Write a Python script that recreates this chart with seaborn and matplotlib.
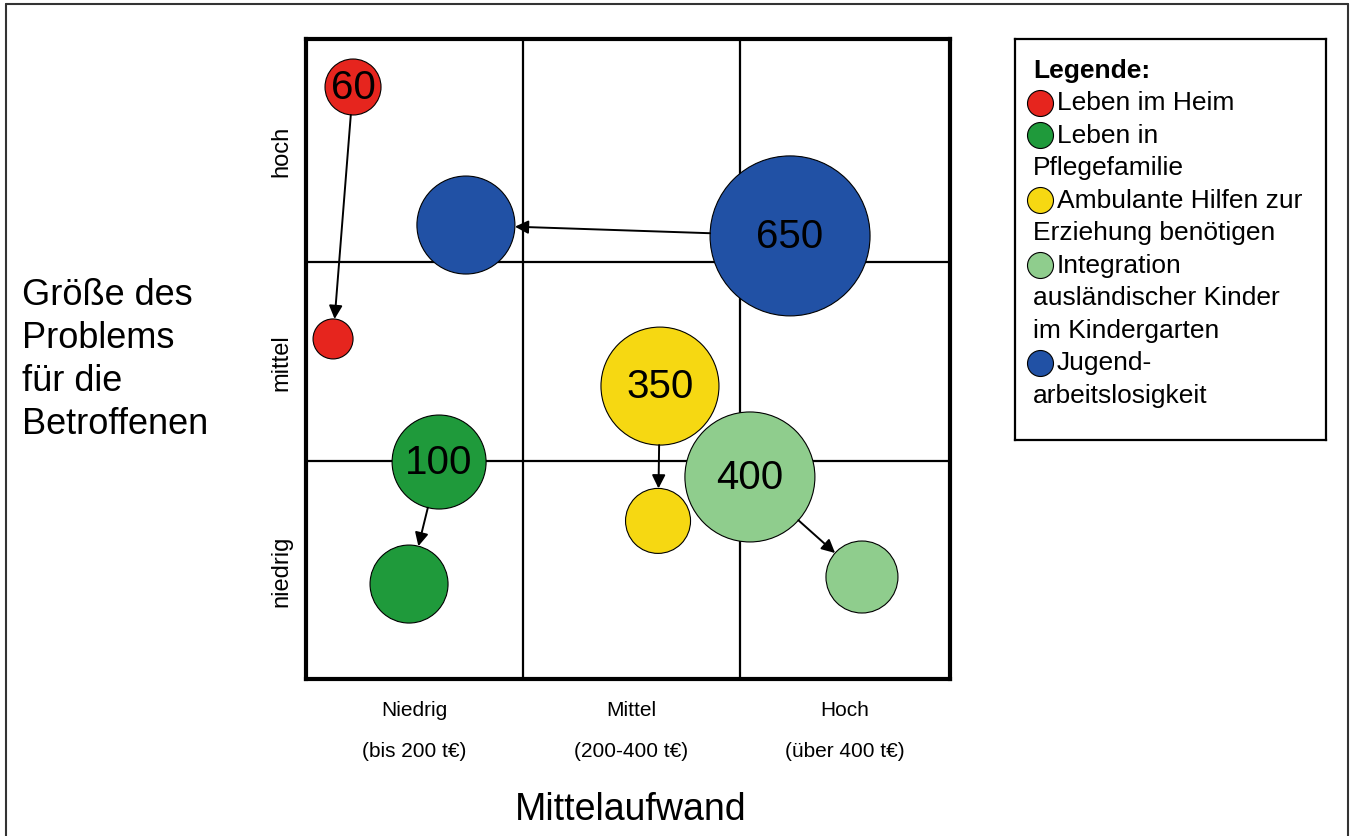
import numpy as np
import pandas as pd
import matplotlib
matplotlib.use("Agg")
import matplotlib.pyplot as plt
import seaborn as sns
from matplotlib.lines import Line2D

# Kategorien (Legende) und Farben
kategorien = ["Leben im Heim", "Leben in Pflegefamilie",
              "Ambulante Hilfen zur Erziehung benötigen",
              "Integration ausländischer Kinder im Kindergarten",
              "Jugendarbeitslosigkeit"]
farben = ["#e6251e", "#1f9a3b", "#f6d812", "#8fcd8d", "#2151a5"]
legende_zeilen = [["Leben im Heim"],
                  ["Leben in", "Pflegefamilie"],
                  ["Ambulante Hilfen zur", "Erziehung benötigen"],
                  ["Integration", "ausländischer Kinder", "im Kindergarten"],
                  ["Jugend-", "arbeitslosigkeit"]]

# Blasen: Kategorie, Mittelaufwand (x), Größe des Problems (y), Blasengröße, Beschriftung
blase_kategorie = [0, 0, 1, 1, 2, 2, 3, 3, 4, 4]
blase_x = [0.219, 0.126, 0.620, 0.480, 1.649, 1.640, 2.068, 2.590, 2.255, 0.745]
blase_y = [2.775, 1.594, 1.017, 0.445, 1.373, 0.741, 0.947, 0.478, 2.077, 2.128]
blase_groesse = [28, 20, 47, 39, 59, 32.5, 65, 36, 80, 49]
blase_label = ["60", "", "100", "", "350", "", "400", "", "650", ""]

# Pfeile: von Blase -> zu Blase
pfeile = [(0, 1), (2, 3), (4, 5), (6, 7), (8, 9)]

# Raster und Achsenbeschriftungen
x_grenzen = [1.01, 2.02]
y_grenzen = [1.02, 1.955]
x_labels = ["Niedrig\n(bis 200 t€)", "Mittel\n(200-400 t€)", "Hoch\n(über 400 t€)"]
y_labels = ["niedrig", "mittel", "hoch"]

sns.set_theme(style="white")
plt.rcParams["font.family"] = ["Liberation Sans", "DejaVu Sans"]
plt.rcParams["text.color"] = "black"
plt.rcParams["xtick.color"] = "black"
plt.rcParams["ytick.color"] = "black"

fig = plt.figure(figsize=(13.54, 8.37), dpi=100)
ax = fig.add_axes([0.226, 0.1876, 0.4756, 0.7646])

df = pd.DataFrame({
    "x": blase_x,
    "y": blase_y,
    "kat": [kategorien[k] for k in blase_kategorie],
    "r": blase_groesse,
})
# Radius (px) -> Markerfläche (pt^2)
df["flaeche"] = (2 * df["r"] * 0.72) ** 2
fmin, fmax = df["flaeche"].min(), df["flaeche"].max()

sns.scatterplot(data=df, x="x", y="y", hue="kat",
                palette=dict(zip(kategorien, farben)),
                size="flaeche", sizes=(fmin, fmax), size_norm=(fmin, fmax),
                edgecolor="black", linewidth=0.8, alpha=1,
                legend=False, ax=ax, zorder=3)

for i, lab in enumerate(blase_label):
    if lab:
        ax.text(blase_x[i], blase_y[i], lab, ha="center", va="center",
                fontsize=29, color="black", zorder=5)

for a, b in pfeile:
    ax.annotate("", xy=(blase_x[b], blase_y[b]), xytext=(blase_x[a], blase_y[a]),
                arrowprops=dict(arrowstyle="-|>", color="black", lw=1.4,
                                mutation_scale=20,
                                shrinkA=blase_groesse[a] * 0.72,
                                shrinkB=blase_groesse[b] * 0.72),
                zorder=4)

for g in x_grenzen:
    ax.axvline(g, color="black", lw=1.6, zorder=1)
for g in y_grenzen:
    ax.axhline(g, color="black", lw=1.6, zorder=1)

ax.set_xlim(0, 3)
ax.set_ylim(0, 3)
xc = np.array([0] + x_grenzen + [3])
yc = np.array([0] + y_grenzen + [3])
ax.set_xticks((xc[:-1] + xc[1:]) / 2)
ax.set_xticklabels(x_labels, fontsize=15, linespacing=2.45)
ax.set_yticks((yc[:-1] + yc[1:]) / 2)
ax.set_yticklabels(y_labels, fontsize=17, rotation=90, va="center")
ax.tick_params(axis="x", length=0, pad=15)
ax.tick_params(axis="y", length=0, pad=10)
ax.set_xlabel("")
ax.set_ylabel("")
for s in ax.spines.values():
    s.set_linewidth(3)
    s.set_color("black")

fig.text(631 / 1354, 1 - 810 / 837, "Mittelaufwand", ha="center", va="center", fontsize=27)
fig.text(22 / 1354, 1 - 360 / 837, "Größe des\nProblems\nfür die\nBetroffenen",
         ha="left", va="center", fontsize=26, linespacing=1.3)

# Legende als eigener Kasten
lax = fig.add_axes([1015 / 1354, 1 - 441 / 837, 311 / 1354, 401 / 837])
lax.set_xlim(0, 311)
lax.set_ylim(401, 0)
lax.set_xticks([])
lax.set_yticks([])
for s in lax.spines.values():
    s.set_linewidth(1.6)
    s.set_color("black")

zeile = 0
lax.text(18, 31, "Legende:", fontsize=19, fontweight="bold", va="center", ha="left")
for k, zeilen in enumerate(legende_zeilen):
    zeile += 1
    yz = 31 + 32.5 * zeile
    lax.scatter([25], [yz], s=(26 * 0.72) ** 2, color=farben[k], edgecolor="black", linewidth=0.8)
    lax.text(42, yz, zeilen[0], fontsize=19, va="center", ha="left")
    for t in zeilen[1:]:
        zeile += 1
        lax.text(18, 31 + 32.5 * zeile, t, fontsize=19, va="center", ha="left")

# Rahmen um die Abbildung
rc = "#333333"
fig.add_artist(Line2D([6 / 1354, 6 / 1354], [0, 1 - 5 / 837], transform=fig.transFigure, color=rc, lw=1.5))
fig.add_artist(Line2D([1348 / 1354, 1348 / 1354], [0, 1 - 5 / 837], transform=fig.transFigure, color=rc, lw=1.5))
fig.add_artist(Line2D([6 / 1354, 1348 / 1354], [1 - 5 / 837, 1 - 5 / 837], transform=fig.transFigure, color=rc, lw=1.5))

fig.savefig("out.png", dpi=100, facecolor="white")
